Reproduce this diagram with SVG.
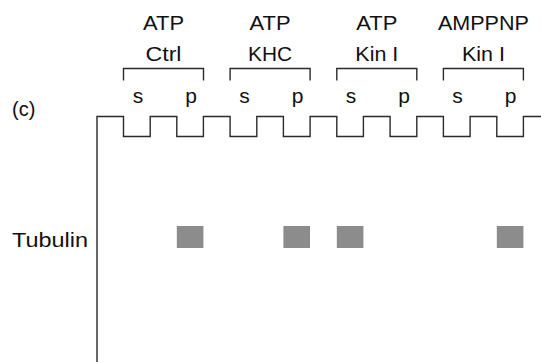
<svg xmlns="http://www.w3.org/2000/svg" width="541" height="362" viewBox="0 0 541 362">
<style>
.ln{fill:none;stroke:#2a2a2a;stroke-width:1.4;stroke-linejoin:miter;stroke-linecap:butt}
.t{font-family:"Liberation Sans",Arial,sans-serif;fill:#111}
.h{font-size:19.5px;text-anchor:middle}
.sp{font-size:21px;text-anchor:middle}
.band{fill:#8c8c8c}
</style>
<rect width="541" height="362" fill="#fff"/>
<g id="panel-label"><text class="t" x="12" y="116" font-size="20">(c)</text></g>
<g id="headers">
<text class="t h" x="163.5" y="30" textLength="41" lengthAdjust="spacingAndGlyphs">ATP</text>
<text class="t h" x="163.5" y="61" textLength="36" lengthAdjust="spacingAndGlyphs">Ctrl</text>
<text class="t h" x="270.1" y="30" textLength="41" lengthAdjust="spacingAndGlyphs">ATP</text>
<text class="t h" x="270.1" y="61" textLength="44" lengthAdjust="spacingAndGlyphs">KHC</text>
<text class="t h" x="376.8" y="30" textLength="41" lengthAdjust="spacingAndGlyphs">ATP</text>
<text class="t h" x="376.8" y="61" textLength="43" lengthAdjust="spacingAndGlyphs">Kin I</text>
<text class="t h" x="483.4" y="30" textLength="91" lengthAdjust="spacingAndGlyphs">AMPPNP</text>
<text class="t h" x="483.4" y="61" textLength="43" lengthAdjust="spacingAndGlyphs">Kin I</text>
</g>
<g id="brackets">
<path class="ln" d="M123.5,80.5V68.5H203.5V80.5"/>
<path class="ln" d="M230.1,80.5V68.5H310.1V80.5"/>
<path class="ln" d="M336.8,80.5V68.5H416.8V80.5"/>
<path class="ln" d="M443.4,80.5V68.5H523.4V80.5"/>
</g>
<g id="lane-labels">
<text class="t sp" x="138" y="103">s</text>
<text class="t sp" x="191" y="103">p</text>
<text class="t sp" x="244.5" y="103">s</text>
<text class="t sp" x="297.5" y="103">p</text>
<text class="t sp" x="351" y="103">s</text>
<text class="t sp" x="404" y="103">p</text>
<text class="t sp" x="457.5" y="103">s</text>
<text class="t sp" x="510.5" y="103">p</text>
</g>
<g id="gel-outline">
<path class="ln" d="M97,362V116.5H123.5V136.5H150.2V116.5H176.8V136.5H203.4V116.5H230.1V136.5H256.8V116.5H283.4V136.5H310.1V116.5H336.8V136.5H363.4V116.5H390.1V136.5H416.8V116.5H443.4V136.5H470.1V116.5H496.8V136.5H523.4V116.5H541"/>
</g>
<g id="row-tubulin">
<text class="t" x="12" y="247" font-size="21" textLength="76" lengthAdjust="spacingAndGlyphs">Tubulin</text>
<rect class="band" x="176.8" y="226" width="26.6" height="22"/>
<rect class="band" x="283.4" y="226" width="26.6" height="22"/>
<rect class="band" x="336.8" y="226" width="26.6" height="22"/>
<rect class="band" x="496.8" y="226" width="26.6" height="22"/>
</g>
</svg>
